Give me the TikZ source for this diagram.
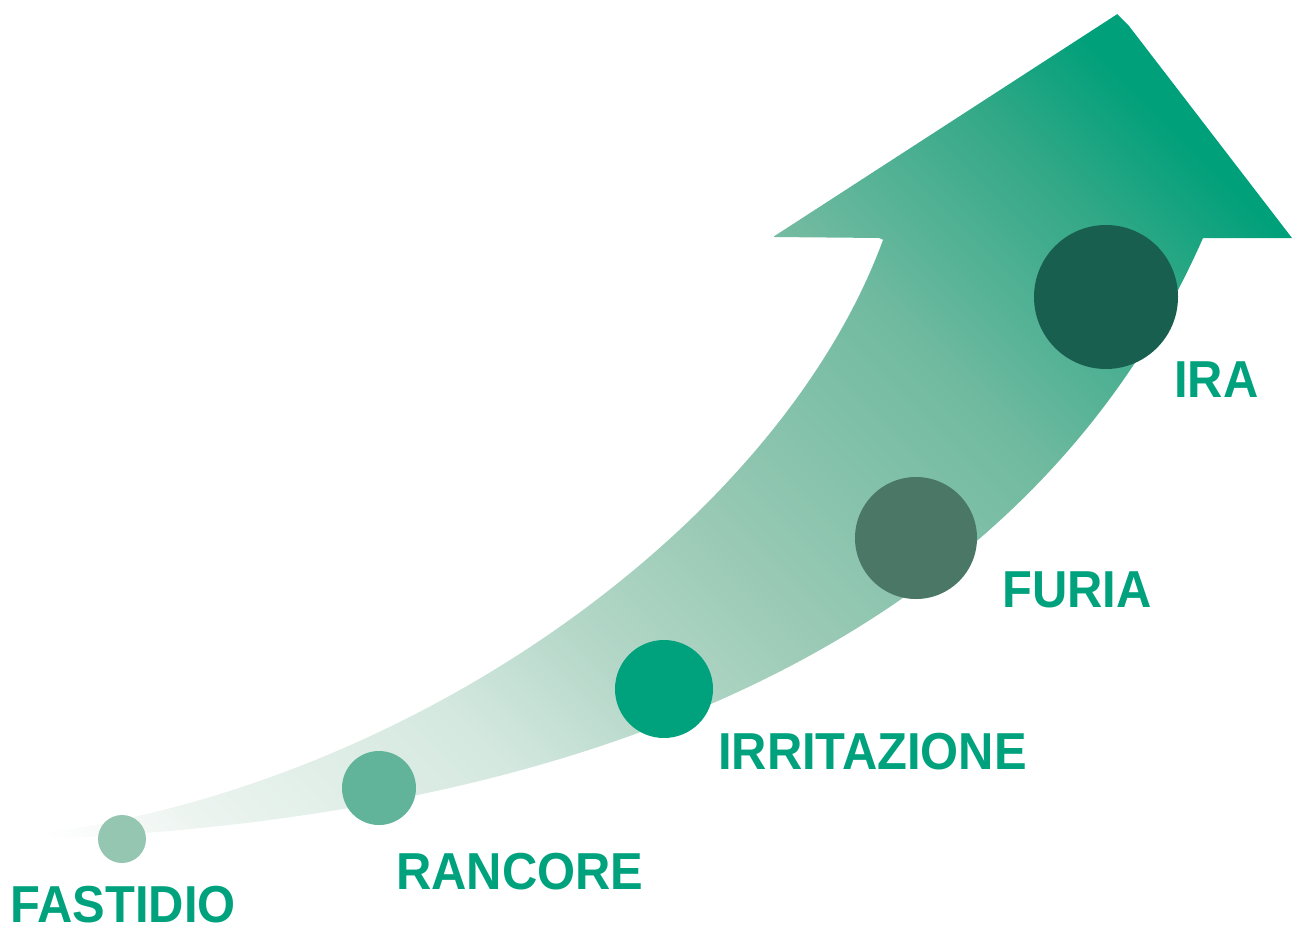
\documentclass[tikz,border=0pt]{standalone}
\usepackage{fontspec}
\newfontfamily\stagefont[FakeStretch=0.94]{Liberation Sans}
\usetikzlibrary{positioning}

\definecolor{iragreen}{HTML}{00A27D}
\definecolor{fastidiocol}{HTML}{95C6B1}
\definecolor{rancorecol}{HTML}{61B399}
\definecolor{irritazionecol}{HTML}{00A27D}
\definecolor{furiacol}{HTML}{4B7767}
\definecolor{iracol}{HTML}{195F50}
% stops of the ramp, from the tail to the head
\definecolor{rampA}{RGB}{236,244,240}
\definecolor{rampB}{RGB}{212,232,223}
\definecolor{rampC}{RGB}{180,215,200}
\definecolor{rampD}{RGB}{152,201,181}
\definecolor{rampE}{RGB}{112,186,160}
\definecolor{rampF}{RGB}{50,168,135}
\definecolor{rampG}{RGB}{0,160,122}
\pgfdeclarehorizontalshading{rampfade}{100bp}{color(0bp)=(white); color(25bp)=(white);
  color(29.5bp)=(rampA); color(39bp)=(rampB); color(44.5bp)=(rampC); color(51bp)=(rampD);
  color(61bp)=(rampE); color(69bp)=(rampF); color(73.5bp)=(rampG); color(100bp)=(rampG)}

\begin{document}
\begin{tikzpicture}[x=1pt,y=-1pt,
    stage/.style={circle,inner sep=0pt,minimum size=#1},
    tag/.style={anchor=base west,inner sep=0pt,text=iragreen,
      font=\stagefont\bfseries\fontsize{52}{52}\selectfont}]
    \useasboundingbox (0,0) rectangle (1293,927);
    % the rising arrow
    \begin{scope}
    \clip (883,240) .. controls (780,520) and (420,782) .. (45,833)
      -- (45,839) .. controls (745,810) and (1071,538) .. (1203,238)
      -- (1292,238) [rounded corners=2pt] -- (1119,13) -- (773,237) -- (881,238)
      [sharp corners] -- cycle;
    \shade[overlay,shading=rampfade,transform canvas={rotate=45}] (-560,0) rectangle (780,1600);
    \end{scope}
    % the stages
    \node[stage=48pt,fill=fastidiocol] (fastidio) at (122,839) {};
    \node[stage=74pt,fill=rancorecol] (rancore) at (379,788) {};
    \node[stage=98pt,fill=irritazionecol] (irritazione) at (664,689) {};
    \node[stage=122pt,fill=furiacol] (furia) at (916,538) {};
    \node[stage=144pt,fill=iracol] (ira) at (1106,297) {};
    \node[tag] (fastidio-tag) at ([shift={(-112,83)}]fastidio.center) {FASTIDIO};
    \node[tag] (rancore-tag) at ([shift={(17,101)}]rancore.center) {RANCORE};
    \node[tag] (irritazione-tag) at ([shift={(54,80)}]irritazione.center) {IRRITAZIONE};
    \node[tag] (furia-tag) at ([shift={(86,69)}]furia.center) {FURIA};
    \node[tag] (ira-tag) at ([shift={(68,100)}]ira.center) {IRA};
\end{tikzpicture}
\end{document}
